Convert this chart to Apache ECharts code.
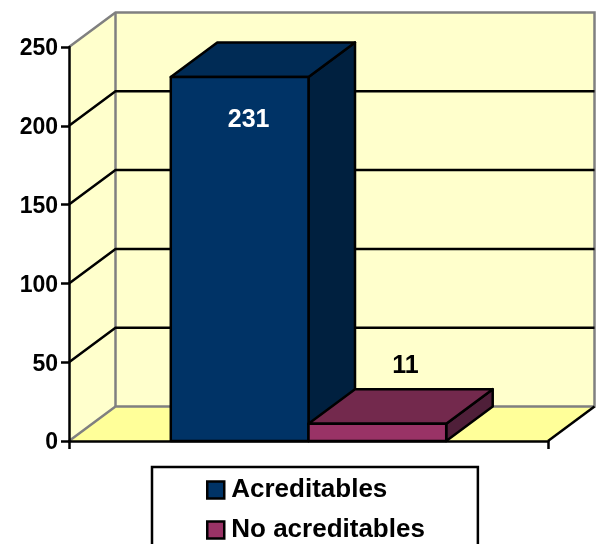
<!DOCTYPE html>
<html><head><meta charset="utf-8">
<style>html,body{margin:0;padding:0;background:#fff;overflow:hidden}#c{width:596px;height:544px}</style>
<script src="https://cdn.jsdelivr.net/npm/echarts@6/dist/echarts.min.js"></script>
</head><body><div id="c"></div>
<script>
const categories = ['Acreditables', 'No acreditables'];
const values = [231, 11];
const yTicks = [0, 50, 100, 150, 200, 250];
const gridValues = [50, 100, 150, 200];
const frontColors = ['#003366', '#993366'];
const topColors = ['#002B55', '#73294D'];
const sideColors = ['#00203F', '#4F1F39'];

const DX = 46.5, DY = -34.5, FONT = '"Liberation Sans", Arial, sans-serif';
const chart = echarts.init(document.getElementById('c'), null, {renderer: 'canvas'});
const poly = (points, fill, stroke, lw, z2) => ({type: 'polygon', shape: {points}, z2: z2 || 0,
  style: {fill, stroke: stroke || null, lineWidth: lw || 0, lineJoin: 'round'}});
const line = (points, stroke, lw, z2) => ({type: 'polyline', shape: {points}, z2: z2 || 0,
  style: {fill: null, stroke, lineWidth: lw}});

function renderWalls(p, api) {
  const cs = p.coordSys, l = cs.x, r = cs.x + cs.width, t = cs.y, b = cs.y + cs.height;
  const bl = l + DX, br = r + DX, bt = t + DY, bb = b + DY;
  const G = '#808080';
  return {type: 'group', children: [
    poly([[l, t], [bl, bt], [bl, bb], [l, b]], '#FFFFCC'),
    poly([[bl, bt], [br, bt], [br, bb], [bl, bb]], '#FFFFCC'),
    poly([[l, b], [bl, bb], [br, bb], [r, b]], '#FFFF99'),
    line([[l, t], [bl, bt], [br, bt], [br, bb], [bl, bb], [l, b]], G, 2.5, 2),
    line([[bl, bt], [bl, bb]], G, 2.5, 2),
    line([[r, b], [br, bb]], '#000', 2.5, 2)
  ]};
}
function renderGrid(p, api) {
  const cs = p.coordSys, y = api.coord([0, api.value(0)])[1];
  return line([[cs.x, y], [cs.x + DX, y + DY], [cs.x + cs.width + DX, y + DY]], '#000', 2.5);
}
function barRenderer(i) {
  return function (p, api) {
    const v = api.value(0), c = api.coord([0, v]), z = api.coord([0, 0]);
    const w = api.size([1, 0])[0] * 0.2875;
    const x0 = c[0] + (i === 0 ? -w : 0), x1 = x0 + w, t = c[1], b = z[1];
    const text = i === 0
      ? {x: (x0 + x1) / 2 + 9, y: t + 43, fill: '#fff'}
      : {x: (x0 + x1) / 2 + 28, y: t + DY - 23, fill: '#000'};
    return {type: 'group', children: [
      poly([[x1, t], [x1 + DX, t + DY], [x1 + DX, b + DY], [x1, b]], sideColors[i], '#000', 2.5),
      poly([[x0, t], [x0 + DX, t + DY], [x1 + DX, t + DY], [x1, t]], topColors[i], '#000', 2.5),
      poly([[x0, t], [x1, t], [x1, b], [x0, b]], frontColors[i], '#000', 2.5),
      {type: 'text', z2: 10, style: {x: text.x, y: text.y, text: String(v), fill: text.fill,
        font: 'bold 25px ' + FONT, align: 'center', verticalAlign: 'middle'}}
    ]};
  };
}
const tickStyle = {color: '#000', fontFamily: FONT, fontWeight: 'bold', fontSize: 23};
chart.setOption({
  animation: false,
  backgroundColor: '#fff',
  grid: {left: 69, top: 47, width: 479, height: 394},
  legend: {
    show: true, orient: 'vertical', left: 152, top: 467, align: 'left', height: 120, width: 230,
    data: categories, icon: 'rect', itemWidth: 17, itemHeight: 17, itemGap: 14,
    padding: [10, 53, 14, 54], borderColor: '#000', borderWidth: 2.5, backgroundColor: '#fff',
    selectedMode: false,
    textStyle: {color: '#000', fontFamily: FONT, fontWeight: 'bold', fontSize: 26, padding: [0, 0, 0, 2]},
    itemStyle: {borderColor: '#000', borderWidth: 2.5}
  },
  xAxis: {type: 'category', data: [''], z: 5, boundaryGap: true,
    axisLine: {show: true, lineStyle: {color: '#000', width: 2.5}},
    axisTick: {show: true, length: 8, lineStyle: {color: '#000', width: 2.5}},
    axisLabel: {show: false}},
  yAxis: {type: 'value', min: 0, max: 250, interval: 50, z: 5,
    axisLine: {show: true, lineStyle: {color: '#000', width: 2.5}},
    axisTick: {show: true, length: 8, lineStyle: {color: '#000', width: 2.5}},
    splitLine: {show: false},
    axisLabel: Object.assign({}, tickStyle, {margin: 11, customValues: yTicks,
      formatter: '{a|{value}}',
      rich: {a: Object.assign({}, tickStyle, {padding: [4, 0, 0, 0]})}})},
  series: [
    {type: 'custom', name: 'walls', z: 1, silent: true, data: [[0]], renderItem: renderWalls},
    {type: 'custom', name: 'grid', z: 2, silent: true, data: gridValues.map(v => [v]), renderItem: renderGrid},
    ...categories.map((n, i) => ({type: 'custom', name: n, z: 6 + i, silent: true,
      itemStyle: {color: frontColors[i]}, data: [[values[i]]], renderItem: barRenderer(i)}))
  ]
});
</script></body></html>
